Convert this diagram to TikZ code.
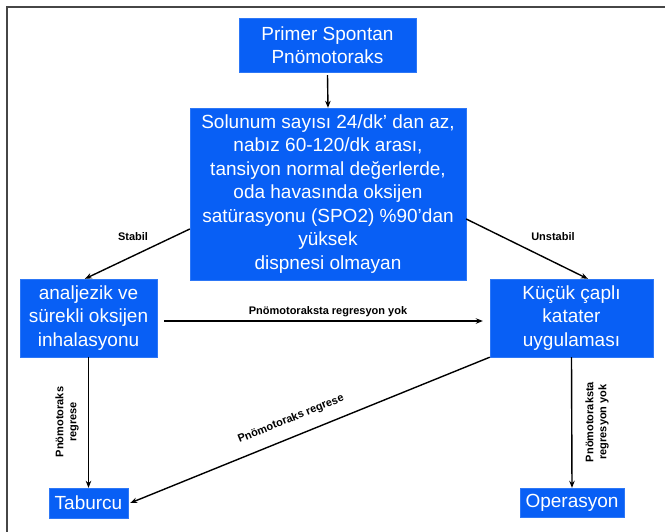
\documentclass[tikz,border=0pt]{standalone}
\usepackage{fontspec}
\setmainfont{Liberation Sans}
\usetikzlibrary{arrows.meta,calc}
\definecolor{boxblue}{RGB}{8,95,245}
\definecolor{framegray}{RGB}{70,70,70}
\begin{document}
\begin{tikzpicture}[x=1pt,y=-1pt,
  bluebox/.style={draw=boxblue!85!white,fill=boxblue,text=white,inner sep=0pt,align=center,
    font=\fontsize{19}{23.5}\selectfont},
  conn/.style={line width=1.4pt,-{Stealth[length=7pt,width=5.5pt]}},
  lbl/.style={font=\fontsize{11}{13}\selectfont\bfseries,align=center,inner sep=0pt}]
\useasboundingbox (0,0) rectangle (665,531);
\fill[white] (0,0) rectangle (665,531);
\draw[framegray,line width=1.3pt] (7,7) rectangle (680,545);

\node[bluebox,minimum width=177pt,minimum height=54pt] (top) at (327.5,45) {Primer Spontan\\Pnömotoraks};
\node[bluebox,minimum width=276pt,minimum height=172pt] (mid) at (328,194)
  {Solunum sayısı 24/dk’ dan az,\\nabız 60-120/dk arası,\\tansiyon normal değerlerde,\\oda havasında oksijen\\satürasyonu (SPO2) \%90’dan\\yüksek\\dispnesi olmayan};
\node[bluebox,minimum width=137pt,minimum height=78pt] (left) at (88.5,318) {analjezik ve\\sürekli oksijen\\inhalasyonu};
\node[bluebox,minimum width=163pt,minimum height=78pt] (right) at (571.5,318) {Küçük çaplı\\katater\\uygulaması};
\node[bluebox,minimum width=79pt,minimum height=30pt] (tab) at (88.5,503) {Taburcu};
\node[bluebox,minimum width=104pt,minimum height=29pt] (op) at (572,502.5) {Operasyon};

\draw[conn] (top.south) ++(0,3) -- (mid.north);
\draw[conn] ($(mid.north west)!0.703!(mid.south west)$) -- ($(left.north west)!0.474!(left.north east)$);
\draw[conn] ($(mid.north east)!0.645!(mid.south east)$) -- ($(right.north west)!0.6!(right.north east)$);
\draw[conn] ($(left.east)+(7,3)$) -- ($(right.west)+(-7,3)$);
\draw[conn] (left.south) -- (tab.north);
\draw[conn] (right.south) -- (op.north);
\draw[conn] (right.south west) -- ($(tab.east)+(2,0)$);

\node[lbl] (l1) at (133,237) {Stabil};
\node[lbl] (l2) at (553,237) {Unstabil};
\node[lbl] (l3) at (328,312) {Pnömotoraksta regresyon yok};
\node[lbl,rotate=90] (l4) at (67,422) {Pnömotoraks\\regrese};
\node[lbl,rotate=90] (l5) at (597,422) {Pnömotoraksta\\regresyon yok};
\node[lbl,rotate=22] (l6) at (291,419) {Pnömotoraks regrese};
\end{tikzpicture}
\end{document}
